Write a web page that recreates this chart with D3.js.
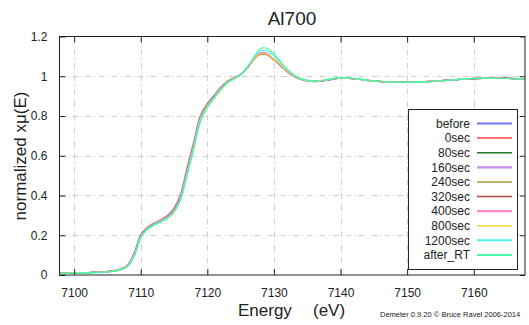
<!DOCTYPE html>
<html>
<head>
<meta charset="utf-8">
<script src="https://cdn.jsdelivr.net/npm/d3@7"></script>
<style>
  body { margin: 0; background: #fff; }
  text { font-family: "Liberation Sans", Arial, sans-serif; fill: #222; }
</style>
</head>
<body>
<div class="chart"></div>
<script>
// DATA

var energy = [7097.8, 7100, 7103, 7106, 7107, 7108, 7109, 7110, 7111, 7112, 7113, 7114, 7115, 7116, 7117, 7118, 7119, 7120, 7121, 7122, 7123, 7124, 7125, 7126, 7127, 7128, 7129, 7130, 7131, 7132, 7133, 7134, 7136, 7138, 7140, 7142, 7145, 7148, 7151, 7154, 7157, 7160, 7163, 7167.7];

var before  = [0.008,0.010,0.013,0.021,0.030,0.050,0.108,0.202,0.240,0.261,0.278,0.299,0.336,0.408,0.545,0.674,0.806,0.862,0.903,0.944,0.974,0.991,1.009,1.044,1.088,1.117,1.113,1.085,1.053,1.023,0.999,0.984,0.973,0.980,0.990,0.988,0.975,0.970,0.969,0.974,0.982,0.988,0.990,0.987];
var sec0    = [0.008,0.010,0.013,0.021,0.029,0.047,0.103,0.196,0.236,0.257,0.273,0.293,0.328,0.397,0.531,0.662,0.797,0.856,0.899,0.941,0.972,0.990,1.008,1.043,1.085,1.111,1.108,1.083,1.054,1.025,1.002,0.986,0.974,0.981,0.991,0.988,0.976,0.970,0.970,0.975,0.983,0.989,0.990,0.988];
var sec80   = [0.008,0.010,0.013,0.021,0.029,0.047,0.102,0.195,0.235,0.257,0.273,0.292,0.327,0.396,0.530,0.661,0.796,0.855,0.898,0.940,0.972,0.990,1.008,1.043,1.085,1.112,1.109,1.084,1.055,1.025,1.002,0.986,0.974,0.981,0.991,0.988,0.975,0.970,0.970,0.975,0.982,0.988,0.990,0.987];
var sec160  = [0.008,0.010,0.013,0.022,0.031,0.051,0.110,0.204,0.241,0.262,0.279,0.300,0.338,0.410,0.548,0.676,0.808,0.863,0.904,0.945,0.974,0.991,1.009,1.044,1.089,1.118,1.114,1.085,1.053,1.023,0.999,0.984,0.973,0.980,0.990,0.988,0.975,0.970,0.969,0.974,0.982,0.988,0.990,0.987];
var sec240  = [0.008,0.010,0.013,0.021,0.029,0.047,0.103,0.196,0.236,0.257,0.273,0.293,0.328,0.397,0.531,0.662,0.797,0.856,0.898,0.940,0.972,0.990,1.008,1.043,1.085,1.112,1.109,1.084,1.055,1.025,1.002,0.986,0.974,0.981,0.991,0.988,0.975,0.970,0.970,0.975,0.983,0.989,0.990,0.987];
var sec320  = [0.008,0.010,0.013,0.021,0.029,0.047,0.102,0.195,0.235,0.256,0.272,0.292,0.327,0.395,0.529,0.660,0.795,0.855,0.898,0.940,0.971,0.990,1.008,1.043,1.085,1.112,1.109,1.084,1.055,1.025,1.002,0.986,0.974,0.981,0.991,0.988,0.975,0.970,0.970,0.975,0.982,0.988,0.990,0.987];
var sec400  = [0.008,0.010,0.013,0.020,0.028,0.046,0.100,0.193,0.234,0.255,0.271,0.290,0.324,0.392,0.524,0.656,0.792,0.852,0.895,0.938,0.970,0.989,1.008,1.043,1.086,1.113,1.110,1.085,1.056,1.026,1.002,0.986,0.974,0.981,0.991,0.988,0.975,0.970,0.970,0.975,0.983,0.989,0.990,0.987];
var sec800  = [0.008,0.010,0.013,0.020,0.028,0.045,0.098,0.191,0.233,0.254,0.270,0.289,0.322,0.389,0.520,0.652,0.788,0.850,0.893,0.936,0.969,0.988,1.007,1.043,1.086,1.113,1.110,1.086,1.057,1.027,1.003,0.987,0.974,0.982,0.992,0.988,0.975,0.970,0.970,0.975,0.982,0.989,0.990,0.987];
var sec1200 = [0.007,0.009,0.012,0.019,0.027,0.043,0.094,0.188,0.231,0.252,0.268,0.286,0.318,0.384,0.511,0.645,0.780,0.845,0.889,0.933,0.967,0.987,1.008,1.046,1.093,1.128,1.127,1.101,1.067,1.033,1.006,0.988,0.975,0.983,0.993,0.989,0.976,0.970,0.970,0.974,0.982,0.989,0.990,0.987];
var afterRT = [0.007,0.009,0.012,0.019,0.026,0.042,0.092,0.186,0.230,0.251,0.266,0.284,0.316,0.380,0.505,0.640,0.775,0.842,0.887,0.930,0.965,0.986,1.007,1.045,1.096,1.140,1.140,1.112,1.073,1.036,1.007,0.988,0.975,0.983,0.993,0.989,0.976,0.970,0.970,0.974,0.982,0.989,0.990,0.987];

var seriesNames = ['before', '0sec', '80sec', '160sec', '240sec', '320sec', '400sec', '800sec', '1200sec', 'after_RT'];
var seriesValues = [before, sec0, sec80, sec160, sec240, sec320, sec400, sec800, sec1200, afterRT];
var seriesColors = ['#7474ff', '#ff4444', '#217a21', '#c98cf0', '#a09c3c', '#b44a4a', '#ff8cc6', '#ffd23a', '#4ef2f2', '#4cf7a4'];
var legendWidths = [2.2, 1.5, 1.5, 2.2, 1.5, 1.5, 2.2, 1.5, 2, 2];

var xTicks = [7100, 7110, 7120, 7130, 7140, 7150, 7160];
var yTicks = [0, 0.2, 0.4, 0.6, 0.8, 1, 1.2];

// SETUP

var W = 529, H = 325;
var plotL = 59.5, plotR = 525, plotT = 36.5, plotB = 275;

var svg = d3.select('.chart')
  .append('svg')
  .attr('width', W)
  .attr('height', H);

svg.append('rect')
  .attr('width', W)
  .attr('height', H)
  .attr('fill', '#fff');

var x = d3.scaleLinear().domain([7097.8, 7167.7]).range([plotL, plotR]);
var y = d3.scaleLinear().domain([0, 1.2]).range([plotB, plotT]);

// GRID

svg.append('g').selectAll('line')
  .data(xTicks)
  .enter()
  .append('line')
  .attr('x1', function(d){ return Math.round(x(d)) + 0.5; })
  .attr('x2', function(d){ return Math.round(x(d)) + 0.5; })
  .attr('y1', plotT)
  .attr('y2', plotB)
  .attr('stroke', '#cfcfcf')
  .attr('stroke-dasharray', '6,3,1,3');

svg.append('g').selectAll('line')
  .data(yTicks.slice(1, -1))
  .enter()
  .append('line')
  .attr('y1', function(d){ return Math.round(y(d)) + 0.5; })
  .attr('y2', function(d){ return Math.round(y(d)) + 0.5; })
  .attr('x1', plotL)
  .attr('x2', plotR)
  .attr('stroke', '#cfcfcf')
  .attr('stroke-dasharray', '6,3,1,3');

// CURVES

svg.append('clipPath').attr('id', 'clip')
  .append('rect')
  .attr('x', plotL)
  .attr('y', plotT)
  .attr('width', plotR - plotL)
  .attr('height', plotB - plotT);

var line = d3.line()
  .x(function(d, i){ return x(energy[i]); })
  .y(function(d){ return y(d); })
  .curve(d3.curveCatmullRom.alpha(0.5));

svg.append('g')
  .attr('clip-path', 'url(#clip)')
  .selectAll('path')
  .data(seriesValues)
  .enter()
  .append('path')
  .attr('d', line)
  .attr('fill', 'none')
  .attr('stroke', function(d, i){ return seriesColors[i]; })
  .attr('stroke-width', 1.2);

// AXES (ticks inward, mirrored on top and right)

var xAxisB = d3.axisBottom(x).tickValues(xTicks).tickSizeInner(-6).tickSizeOuter(0).tickPadding(13).tickFormat(d3.format('d'));
var xAxisT = d3.axisTop(x).tickValues(xTicks).tickSizeInner(-6).tickSizeOuter(0).tickFormat('');
var yAxisL = d3.axisLeft(y).tickValues(yTicks).tickSizeInner(-6).tickSizeOuter(0).tickPadding(12)
  .tickFormat(function(d){ return String(+d.toFixed(1)); });
var yAxisR = d3.axisRight(y).tickValues(yTicks).tickSizeInner(-5).tickSizeOuter(0).tickFormat('');

var axes = [
  svg.append('g').attr('transform', 'translate(0,' + plotB + ')').call(xAxisB),
  svg.append('g').attr('transform', 'translate(0,' + plotT + ')').call(xAxisT),
  svg.append('g').attr('transform', 'translate(' + plotL + ',0)').call(yAxisL),
  svg.append('g').attr('transform', 'translate(' + plotR + ',0)').call(yAxisR)
];

axes.forEach(function(a){
  a.select('.domain').remove();
  a.selectAll('line').attr('stroke', '#222');
  a.selectAll('text')
    .style('font-size', '12px')
    .style('font-family', '"Liberation Sans", Arial, sans-serif')
    .attr('fill', '#222');
});

// frame
svg.append('rect')
  .attr('x', plotL)
  .attr('y', plotT)
  .attr('width', plotR - plotL)
  .attr('height', plotB - plotT)
  .attr('fill', 'none')
  .attr('stroke', '#222');

// LEGEND

var legend = svg.append('g');

legend.append('rect')
  .attr('x', 408.5)
  .attr('y', 109.5)
  .attr('width', 109)
  .attr('height', 160)
  .attr('fill', '#fff')
  .attr('stroke', '#222');

var rows = legend.selectAll('.row')
  .data(seriesNames)
  .enter()
  .append('g')
  .attr('class', 'row')
  .attr('transform', function(d, i){ return 'translate(0,' + (123.5 + i * 14.6) + ')'; });

rows.append('text')
  .attr('x', 470)
  .attr('dy', '0.36em')
  .attr('text-anchor', 'end')
  .style('font-size', '12px')
  .text(function(d){ return d; });

rows.append('line')
  .attr('x1', 477)
  .attr('x2', 512)
  .attr('stroke', function(d, i){ return seriesColors[i]; })
  .attr('stroke-width', function(d, i){ return legendWidths[i]; });

// LABELS

svg.append('text')
  .attr('x', 292)
  .attr('y', 25)
  .attr('text-anchor', 'middle')
  .style('font-size', '19px')
  .text('Al700');

svg.append('text')
  .attr('transform', 'translate(26,156) rotate(-90)')
  .attr('text-anchor', 'middle')
  .style('font-size', '17px')
  .text('normalized xμ(E)');

svg.append('text')
  .attr('x', 238)
  .attr('y', 316)
  .style('font-size', '17px')
  .text('Energy');

svg.append('text')
  .attr('x', 313)
  .attr('y', 316)
  .style('font-size', '17px')
  .text('(eV)');

svg.append('text')
  .attr('x', 380)
  .attr('y', 317)
  .style('font-size', '7.5px')
  .text('Demeter 0.9.20 © Bruce Ravel 2006-2014');
</script>
</body>
</html>
